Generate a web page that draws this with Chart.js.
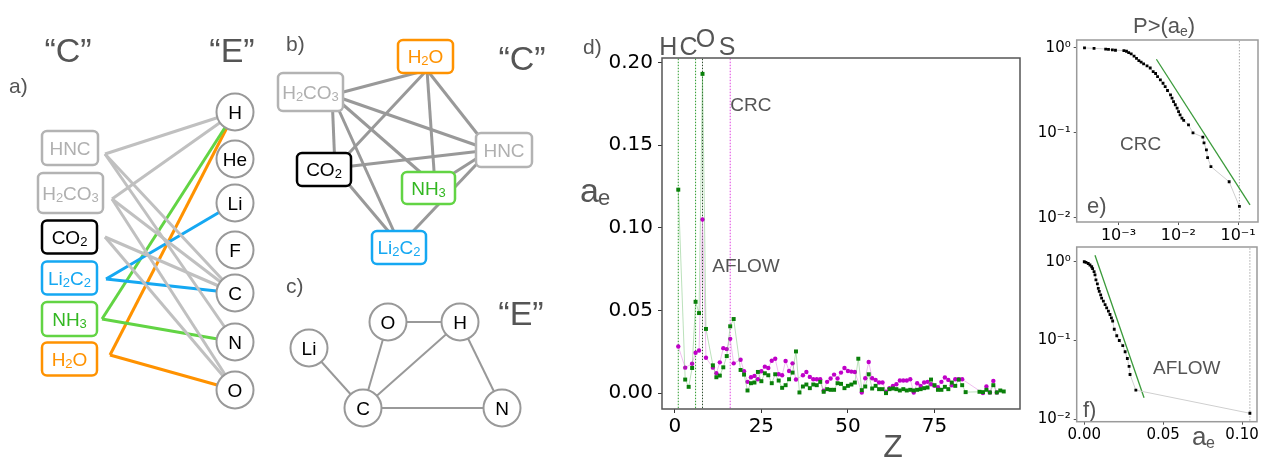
<!DOCTYPE html>
<html>
<head>
<meta charset="utf-8">
<script src="https://cdn.jsdelivr.net/npm/chart.js@4.4.0/dist/chart.umd.min.js"></script>
<style>
  body { margin: 0; background: #fff; width: 1261px; height: 458px; position: relative; overflow: hidden; }
  canvas { position: absolute; }
</style>
</head>
<body>
<canvas id="graphs" width="560" height="458" style="left:0;top:0"></canvas>
<canvas id="chartD" width="470" height="458" style="left:560px;top:0"></canvas>
<canvas id="chartE" width="231" height="250" style="left:1030px;top:0"></canvas>
<canvas id="chartF" width="231" height="223" style="left:1030px;top:235px"></canvas>
<script>
// ---- data: compounds and the elements they contain ----
const compounds = ['HNC', 'H2CO3', 'CO2', 'Li2C2', 'NH3', 'H2O'];
const compoundElements = [['H', 'N', 'C'], ['H', 'C', 'O'], ['C', 'O'], ['Li', 'C'], ['N', 'H'], ['H', 'O']];
const elementsA = ['H', 'He', 'Li', 'F', 'C', 'N', 'O'];
const elementsC = ['Li', 'O', 'H', 'C', 'N'];

// ---- data: a_e against atomic number Z (null = element absent) ----
const Z = Array.from({ length: 95 }, (_, i) => i + 1);
const aflow = [
  0.123, null, 0.0082, 0.0038, 0.0152, 0.0552, 0.0484, 0.193, 0.0388, null,
  0.0168, 0.0096, 0.0106, 0.0156, 0.0224, 0.0404, 0.0448, null, 0.014, 0.0112,
  0.0016, 0.006, 0.0064, 0.0128, 0.0072, 0.012, 0.0108, 0.006, 0.0114, 0.0076,
  0.0032, 0.0048, 0.0084, 0.0124, 0.0252, 0.0004, 0.004, 0.0052, 0.003, 0.0052,
  0.0048, 0.0068, 0.0008, 0.0024, 0.002, 0.002, 0.006, 0.0056, 0.003, 0.0044,
  0.0052, 0.0064, 0.0208, 0.0018, 0.004, 0.0114, 0.0028, 0.0044, 0.0024, 0.0024,
  0.0, 0.0024, 0.0028, 0.0024, 0.0016, 0.0024, 0.0016, 0.002, 0.0016, 0.002,
  0.0024, 0.003, 0.0034, 0.0082, 0.0048, 0.002, 0.002, 0.0038, 0.0024, 0.0064,
  0.0044, 0.0082, 0.0048, 0.0006, null, null, null, 0.0008, 0.0006, 0.002,
  0.0004, 0.0048, 0.0004, 0.0016, 0.001
];
const crc = [
  0.0282, null, 0.0154, null, 0.0178, 0.0244, 0.0258, 0.105, 0.0214, null,
  0.0154, 0.012, 0.0186, 0.0272, 0.0266, 0.0328, 0.018, null, 0.0202, 0.0132,
  0.0068, 0.0096, 0.0104, 0.0084, 0.0132, 0.016, 0.0152, 0.0196, 0.0208, 0.0114,
  0.0108, 0.0194, 0.0134, 0.018, 0.0082, null, 0.0108, 0.0128, 0.0098, 0.0084,
  0.0084, 0.0084, 0.0014, 0.0068, 0.0088, 0.0112, 0.0088, 0.0124, 0.0152, 0.0134,
  0.013, 0.0128, null, 0.0004, 0.009, 0.0188, 0.009, 0.008, 0.0064, 0.0064,
  0.0008, 0.003, 0.0044, 0.0054, 0.0076, 0.0076, 0.0076, 0.0084, 0.0004, 0.006,
  0.0044, 0.0064, 0.0068, 0.0054, 0.0044, 0.0036, 0.0068, 0.0094, 0.008, 0.0048,
  0.0084, 0.0084, 0.0084, null, null, null, null, null, 0.0, 0.004,
  0.0004, 0.0074, 0.0004, null, null
];
const markedZ = [1, 6, 8, 16];
const markedNames = ['H', 'C', 'O', 'S'];

// ---- data: complementary distributions P>(a_e) ----
const crcX = [2.7e-4, 3.9e-4, 6.1e-4, 6.8e-4, 7.9e-4, 8.9e-4, 1.23e-3, 1.36e-3, 1.48e-3, 1.63e-3,
  1.82e-3, 2.0e-3, 2.19e-3, 2.39e-3, 2.63e-3, 3.0e-3, 3.39e-3, 3.8e-3, 4.17e-3, 4.5e-3,
  5.01e-3, 5.55e-3, 6.03e-3, 6.6e-3, 7.41e-3, 7.85e-3, 8.32e-3, 8.9e-3, 9.55e-3, 1.01e-2,
  1.07e-2, 1.15e-2, 1.23e-2, 1.48e-2, 1.76e-2, 2.57e-2, 2.69e-2, 2.95e-2, 3.09e-2, 3.51e-2,
  7.08e-2, 0.105];
const crcP = [1.0, 0.99, 0.97, 0.96, 0.95, 0.94, 0.93, 0.914, 0.88, 0.85,
  0.80, 0.755, 0.71, 0.68, 0.65, 0.614, 0.58, 0.527, 0.50, 0.46,
  0.42, 0.384, 0.35, 0.315, 0.28, 0.256, 0.233, 0.214, 0.195, 0.178,
  0.163, 0.149, 0.14, 0.124, 0.10, 0.089, 0.076, 0.063, 0.051, 0.040,
  0.0265, 0.0136];
const crcFitX = [4.3e-3, 0.158];
const crcFitP = [0.736, 0.0142];

const aflowX = [0.0, 0.0011, 0.0025, 0.0036, 0.0047, 0.0053, 0.0062, 0.0068, 0.0074, 0.0083,
  0.0089, 0.0095, 0.0104, 0.011, 0.0121, 0.0132, 0.0142, 0.0153, 0.0163, 0.0172,
  0.018, 0.019, 0.0206, 0.0222, 0.0244, 0.0259, 0.0273, 0.0284, 0.029, 0.0327, 0.105];
const aflowP = [1.0, 0.98, 0.95, 0.91, 0.865, 0.82, 0.75, 0.68, 0.59, 0.525,
  0.46, 0.42, 0.38, 0.346, 0.316, 0.286, 0.26, 0.236, 0.214, 0.194,
  0.177, 0.139, 0.115, 0.1, 0.086, 0.072, 0.059, 0.047, 0.037, 0.0234, 0.0119];
const aflowFitX = [0.0068, 0.0379];
const aflowFitP = [1.21, 0.0187];
const maxMark = 0.105;

// ---- styles / layout ----
const GREY_TXT = '#555';
const boxColors = ['#b3b3b3', '#b3b3b3', '#000000', '#15a8f2', '#62d444', '#ff9200'];
const textColors = ['#b0b0b0', '#b0b0b0', '#000000', '#15a8f2', '#33b722', '#ff9200'];
const edgeColors = ['#c0c0c0', '#c0c0c0', '#c0c0c0', '#15a8f2', '#62d444', '#ff9200'];

const layoutA = {
  box: [[70, 148, 56, 34], [70.5, 193, 65, 40], [69.5, 237, 55, 33], [69.5, 278, 55, 33], [69.5, 319, 55, 34], [69.5, 359, 55, 33]],
  anchor: [[105, 154], [112, 199], [105, 237], [106, 279], [102, 319], [110, 355]],
  circleX: 235,
  circleY: [112, 159, 203, 250, 293, 342, 390]
};
const layoutB = {
  box: [[504, 150, 56, 34], [310.5, 92, 65, 38], [324, 169.5, 54, 33], [399, 247.5, 54, 33], [428.5, 188, 53, 32], [425.5, 56.5, 55, 33]],
  anchor: [[490, 150], [332, 95], [335, 168], [400, 245], [435, 185], [427, 70]]
};
const layoutC = { x: [309, 388, 460, 363, 502], y: [348, 322, 322, 408, 408] };

function drawChem(ctx, txt, cx, cy, size, color) {
  const parts = txt.match(/[A-Za-z]+|\d+/g);
  let w = 0;
  const seg = parts.map(p => {
    const sub = /\d/.test(p);
    const font = (sub ? Math.round(size * 0.68) : size) + 'px "Liberation Sans"';
    ctx.font = font;
    const pw = ctx.measureText(p).width;
    w += pw;
    return { p, sub, font, pw };
  });
  let x = cx - w / 2;
  const base = cy + size * 0.36;
  ctx.textAlign = 'left';
  ctx.textBaseline = 'alphabetic';
  ctx.fillStyle = color;
  seg.forEach(s => {
    ctx.font = s.font;
    ctx.fillText(s.p, x, base + (s.sub ? size * 0.1 : 0));
    x += s.pw;
  });
}

function text(ctx, t, x, y, size, color, align, family) {
  ctx.font = size + 'px ' + (family || '"Liberation Sans"');
  ctx.fillStyle = color;
  ctx.textAlign = align || 'left';
  ctx.textBaseline = 'alphabetic';
  ctx.fillText(t, x, y);
}

function sup(n) {
  const m = { '-': '\u207B', '0': '\u2070', '1': '\u00B9', '2': '\u00B2', '3': '\u00B3' };
  return String(n).split('').map(c => m[c]).join('');
}

// ---- panels a, b, c : bipartite graph and its projections ----
const graphSets = [];
compounds.forEach((c, i) => {
  compoundElements[i].forEach(el => {
    const j = elementsA.indexOf(el);
    graphSets.push({
      data: [{ x: layoutA.anchor[i][0], y: layoutA.anchor[i][1] }, { x: layoutA.circleX, y: layoutA.circleY[j] }],
      showLine: true, borderColor: edgeColors[i], borderWidth: 3, pointRadius: 0, order: 2
    });
  });
});
// compound projection: two compounds linked when they share an element
for (let i = 0; i < compounds.length; i++) {
  for (let j = i + 1; j < compounds.length; j++) {
    if (compoundElements[i].some(e => compoundElements[j].includes(e))) {
      graphSets.push({
        data: [{ x: layoutB.anchor[i][0], y: layoutB.anchor[i][1] }, { x: layoutB.anchor[j][0], y: layoutB.anchor[j][1] }],
        showLine: true, borderColor: '#999', borderWidth: 3, pointRadius: 0, order: 2
      });
    }
  }
}
// element projection: two elements linked when they appear in one compound
for (let i = 0; i < elementsC.length; i++) {
  for (let j = i + 1; j < elementsC.length; j++) {
    if (compoundElements.some(ce => ce.includes(elementsC[i]) && ce.includes(elementsC[j]))) {
      graphSets.push({
        data: [{ x: layoutC.x[i], y: layoutC.y[i] }, { x: layoutC.x[j], y: layoutC.y[j] }],
        showLine: true, borderColor: '#999', borderWidth: 2, pointRadius: 0, order: 2
      });
    }
  }
}
graphSets.push({
  data: elementsA.map((e, j) => ({ x: layoutA.circleX, y: layoutA.circleY[j] }))
    .concat(elementsC.map((e, j) => ({ x: layoutC.x[j], y: layoutC.y[j] }))),
  pointRadius: 18.5, pointBackgroundColor: '#fff', pointBorderColor: '#999', pointBorderWidth: 2, order: 1
});

const graphLabels = {
  id: 'graphLabels',
  afterDatasetsDraw(chart) {
    const ctx = chart.ctx;
    const sx = chart.scales.x, sy = chart.scales.y;
    ctx.save();
    const boxes = (lay) => compounds.forEach((c, i) => {
      const [cx, cy, w, h] = lay.box[i];
      const px = sx.getPixelForValue(cx), py = sy.getPixelForValue(cy);
      ctx.beginPath();
      ctx.roundRect(px - w / 2, py - h / 2, w, h, 5);
      ctx.fillStyle = '#fff';
      ctx.fill();
      ctx.lineWidth = 2.5;
      ctx.strokeStyle = boxColors[i];
      ctx.stroke();
      drawChem(ctx, c, px, py, 19, textColors[i]);
    });
    boxes(layoutA);
    boxes(layoutB);
    elementsA.forEach((e, j) => drawChem(ctx, e, sx.getPixelForValue(layoutA.circleX), sy.getPixelForValue(layoutA.circleY[j]), 19, '#000'));
    elementsC.forEach((e, j) => drawChem(ctx, e, sx.getPixelForValue(layoutC.x[j]), sy.getPixelForValue(layoutC.y[j]), 19, '#000'));
    text(ctx, '\u201CC\u201D', 68, 62, 34, GREY_TXT, 'center');
    text(ctx, '\u201CE\u201D', 232, 62, 34, GREY_TXT, 'center');
    text(ctx, 'a)', 9, 93, 21, GREY_TXT);
    text(ctx, 'b)', 286, 51, 21, GREY_TXT);
    text(ctx, '\u201CC\u201D', 522, 70, 34, GREY_TXT, 'center');
    text(ctx, 'c)', 286, 293, 21, GREY_TXT);
    text(ctx, '\u201CE\u201D', 521, 325, 34, GREY_TXT, 'center');
    ctx.restore();
  }
};

new Chart(document.getElementById('graphs'), {
  type: 'scatter',
  data: { datasets: graphSets },
  options: {
    responsive: false, animation: false, events: [],
    layout: { padding: 0, autoPadding: false },
    plugins: { legend: { display: false }, tooltip: { enabled: false } },
    scales: {
      x: { type: 'linear', min: 0, max: 560, display: false },
      y: { type: 'linear', min: 0, max: 458, reverse: true, display: false }
    }
  },
  plugins: [graphLabels]
});

// ---- shared helpers for the plots ----
const frame = (color, width) => ({
  id: 'frame',
  afterDraw(chart) {
    const a = chart.chartArea, ctx = chart.ctx;
    ctx.save();
    ctx.strokeStyle = color;
    ctx.lineWidth = width;
    ctx.strokeRect(a.left, a.top, a.right - a.left, a.bottom - a.top);
    ctx.restore();
  }
});
const pts = (xs, ys) => xs.map((x, i) => (ys[i] == null ? null : { x, y: ys[i] })).filter(p => p);
const axisGrid = { drawOnChartArea: false, tickLength: 4, tickColor: '#333' };

// ---- panel d ----
const dLabels = {
  id: 'dLabels',
  afterDraw(chart) {
    const ctx = chart.ctx, sx = chart.scales.x;
    ctx.save();
    const dx = [-10, -7, 3, -3], base = [55, 55, 47, 55];
    markedZ.forEach((z, i) => text(ctx, markedNames[i], sx.getPixelForValue(z) + dx[i], base[i], 25, GREY_TXT, 'center'));
    text(ctx, 'd)', 23, 54, 21, GREY_TXT);
    text(ctx, 'CRC', sx.getPixelForValue(16), 111, 19, GREY_TXT);
    text(ctx, 'AFLOW', sx.getPixelForValue(10.8), 272, 19, GREY_TXT);
    text(ctx, 'a', 20, 202, 34, GREY_TXT);
    text(ctx, 'e', 38, 205, 22, GREY_TXT);
    text(ctx, 'Z', 333, 457, 32, GREY_TXT, 'center');
    ctx.restore();
  }
};

const vlineColors = ['#2a9a2a', '#2a9a2a', '#2f4f2f', '#e040e0'];
const vlineSets = markedZ.map((z, i) => ({
  data: [{ x: z, y: -0.02 }, { x: z, y: 0.22 }],
  showLine: true, borderColor: vlineColors[i], borderWidth: 1, borderDash: [1.5, 1.5], pointRadius: 0, order: 3
}));

new Chart(document.getElementById('chartD'), {
  type: 'scatter',
  data: {
    datasets: [
      {
        label: 'AFLOW', data: pts(Z, aflow), showLine: true,
        borderColor: 'rgba(60,170,60,0.35)', borderWidth: 1,
        pointStyle: 'rect', pointRadius: 2.8, pointBackgroundColor: '#0a800a', pointBorderColor: '#0a800a', pointBorderWidth: 0, order: 1
      },
      {
        label: 'CRC', data: pts(Z, crc), showLine: true,
        borderColor: 'rgba(220,110,220,0.45)', borderWidth: 1,
        pointStyle: 'circle', pointRadius: 2.2, pointBackgroundColor: '#c000c8', pointBorderColor: '#c000c8', pointBorderWidth: 0, order: 2
      },
      ...vlineSets
    ]
  },
  options: {
    responsive: false, animation: false, events: [],
    layout: { padding: { left: 0, right: 10, top: 58, bottom: 0 }, autoPadding: false },
    plugins: { legend: { display: false }, tooltip: { enabled: false } },
    scales: {
      x: {
        type: 'linear', min: -3.7, max: 99.7,
        afterBuildTicks: s => { s.ticks = [0, 25, 50, 75].map(v => ({ value: v })); },
        afterFit: s => { s.height = 49; },
        ticks: { color: '#000', font: { family: 'DejaVu Sans', size: 20 }, padding: 2, maxRotation: 0 },
        grid: axisGrid, border: { display: false }
      },
      y: {
        type: 'linear', min: -0.0096, max: 0.2026,
        afterBuildTicks: s => { s.ticks = [0, 0.05, 0.1, 0.15, 0.2].map(v => ({ value: v })); },
        afterFit: s => { s.width = 102; },
        ticks: { color: '#000', font: { family: 'DejaVu Sans', size: 20 }, padding: 5, callback: v => v.toFixed(2) },
        grid: axisGrid, border: { display: false }
      }
    }
  },
  plugins: [dLabels, frame('#555', 1.5)]
});

// ---- panels e and f ----
function ccdfChart(id, xs, ys, fitX, fitY, cfg) {
  return new Chart(document.getElementById(id), {
    type: 'scatter',
    data: {
      datasets: [
        {
          data: pts(xs, ys), showLine: true, borderColor: '#cfcfcf', borderWidth: 1,
          pointStyle: 'rect', pointRadius: 2, pointBackgroundColor: '#000', pointBorderWidth: 0, order: 1
        },
        {
          data: pts(fitX, fitY), showLine: true, borderColor: '#3a9a3a', borderWidth: 1.3, pointRadius: 0, order: 2
        },
        {
          data: [{ x: maxMark, y: 1e-4 }, { x: maxMark, y: 100 }], showLine: true,
          borderColor: '#aaa', borderWidth: 1, borderDash: [1.5, 1.5], pointRadius: 0, order: 3
        }
      ]
    },
    options: {
      responsive: false, animation: false, events: [],
      layout: { padding: cfg.padding, autoPadding: false },
      plugins: { legend: { display: false }, tooltip: { enabled: false } },
      scales: {
        x: Object.assign({
          afterFit: s => { s.height = cfg.xHeight; },
          grid: { drawOnChartArea: false, tickLength: 3, tickColor: '#555' }, border: { display: false }
        }, cfg.x),
        y: {
          type: 'logarithmic', min: cfg.yMin, max: cfg.yMax,
          afterBuildTicks: s => { s.ticks = [0.01, 0.1, 1].map(v => ({ value: v })); },
          afterFit: s => { s.width = 46.7; },
          ticks: { color: '#000', font: { family: 'DejaVu Sans', size: 15 }, padding: 3, callback: v => '10' + sup(Math.round(Math.log10(v))) },
          grid: { drawOnChartArea: false, tickLength: 3, tickColor: '#555' }, border: { display: false }
        }
      }
    },
    plugins: [cfg.labels, frame('#9a9a9a', 1.5)]
  });
}

ccdfChart('chartE', crcX, crcP, crcFitX, crcFitP, {
  padding: { left: 0, right: 3, top: 40, bottom: 0 }, xHeight: 28, yMin: 0.0089, yMax: 1.24,
  x: {
    type: 'logarithmic', min: 2.0e-4, max: 0.215,
    afterBuildTicks: s => { s.ticks = [1e-3, 1e-2, 1e-1].map(v => ({ value: v })); },
    ticks: { color: '#000', font: { family: 'DejaVu Sans', size: 16 }, padding: 1, maxRotation: 0, callback: v => '10' + sup(Math.round(Math.log10(v))) }
  },
  labels: {
    id: 'eLabels',
    afterDraw(chart) {
      const ctx = chart.ctx;
      ctx.save();
      text(ctx, 'P>(a', 103, 33, 22, GREY_TXT);
      ctx.font = '22px "Liberation Sans"';
      const w = ctx.measureText('P>(a').width;
      text(ctx, 'e', 103 + w, 36, 14, GREY_TXT);
      ctx.font = '14px "Liberation Sans"';
      const w2 = ctx.measureText('e').width;
      text(ctx, ')', 103 + w + w2, 33, 22, GREY_TXT);
      text(ctx, 'CRC', 90, 150, 19, GREY_TXT);
      text(ctx, 'e)', 57, 213, 22, GREY_TXT);
      ctx.restore();
    }
  }
});

ccdfChart('chartF', aflowX, aflowP, aflowFitX, aflowFitP, {
  padding: { left: 0, right: 4, top: 10, bottom: 0 }, xHeight: 36.3, yMin: 0.0093, yMax: 1.54,
  x: {
    type: 'linear', min: -0.0048, max: 0.1095,
    afterBuildTicks: s => { s.ticks = [0, 0.05, 0.1].map(v => ({ value: v })); },
    ticks: { color: '#000', font: { family: 'DejaVu Sans', size: 15 }, padding: 1, maxRotation: 0, callback: v => v.toFixed(2) }
  },
  labels: {
    id: 'fLabels',
    afterDraw(chart) {
      const ctx = chart.ctx;
      ctx.save();
      text(ctx, 'AFLOW', 123, 139, 19, GREY_TXT);
      text(ctx, 'f)', 53, 182, 22, GREY_TXT);
      text(ctx, 'a', 162, 210, 26, GREY_TXT);
      text(ctx, 'e', 176, 213, 16, GREY_TXT);
      ctx.restore();
    }
  }
});
</script>
</body>
</html>
